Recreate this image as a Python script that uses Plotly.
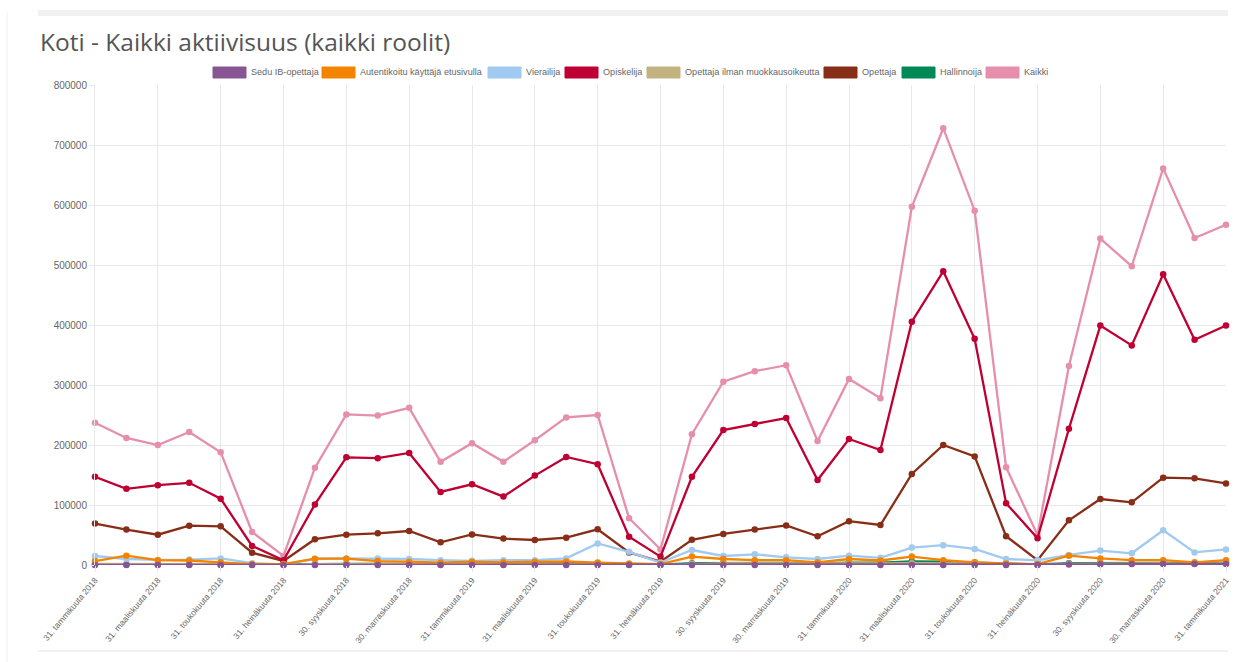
import plotly.graph_objects as go

# ---------------- data ----------------
months = [
    "31. tammikuuta 2018", "28. helmikuuta 2018", "31. maaliskuuta 2018", "30. huhtikuuta 2018",
    "31. toukokuuta 2018", "30. kesäkuuta 2018", "31. heinäkuuta 2018", "31. elokuuta 2018",
    "30. syyskuuta 2018", "31. lokakuuta 2018", "30. marraskuuta 2018", "31. joulukuuta 2018",
    "31. tammikuuta 2019", "28. helmikuuta 2019", "31. maaliskuuta 2019", "30. huhtikuuta 2019",
    "31. toukokuuta 2019", "30. kesäkuuta 2019", "31. heinäkuuta 2019", "31. elokuuta 2019",
    "30. syyskuuta 2019", "31. lokakuuta 2019", "30. marraskuuta 2019", "31. joulukuuta 2019",
    "31. tammikuuta 2020", "29. helmikuuta 2020", "31. maaliskuuta 2020", "30. huhtikuuta 2020",
    "31. toukokuuta 2020", "30. kesäkuuta 2020", "31. heinäkuuta 2020", "31. elokuuta 2020",
    "30. syyskuuta 2020", "31. lokakuuta 2020", "30. marraskuuta 2020", "31. joulukuuta 2020",
    "31. tammikuuta 2021",
]

sedu_ib_opettaja = [0] * 31 + [800, 1200, 1500, 1500, 1500, 1500]

autentikoitu = [
    6500, 15500, 8000, 7500, 4500, 1500, 1500, 10500, 10500, 6500, 5500, 4000,
    5500, 4500, 5500, 6000, 4000, 2500, 1500, 14000, 10000, 8000, 8000, 4500,
    10000, 7500, 14000, 8000, 4500, 2500, 1500, 15500, 11000, 8000, 8000, 4500,
    8000,
]

vierailija = [
    15000, 10000, 8500, 9000, 11000, 3000, 1000, 10000, 11000, 11000, 10000, 8000,
    7000, 8000, 8000, 11000, 36000, 22000, 4000, 25000, 15000, 17800, 12800, 10000,
    15500, 12000, 29000, 33000, 26700, 10000, 7800, 16700, 24000, 19500, 58000, 21000,
    26000,
]

opiskelija = [
    147000, 127000, 133000, 137000, 110500, 31700, 8000, 101000, 179500, 178000, 186700, 121700,
    134500, 114000, 149000, 180000, 168000, 47000, 14000, 147000, 225000, 235000, 245000, 141700,
    210000, 191700, 405500, 489500, 377000, 103000, 44500, 227000, 399000, 366000, 484500, 375500,
    399000,
]

opettaja_ilman = [
    2000, 2000, 1500, 2000, 1500, 500, 300, 1500, 2000, 2000, 2000, 1500,
    2000, 2000, 2000, 2000, 2000, 800, 300, 2000, 2500, 2500, 2500, 1500,
    2500, 2500, 3000, 3000, 2500, 1000, 300, 2000, 2500, 2500, 2500, 2000,
    2500,
]

opettaja = [
    69000, 59000, 50500, 65500, 64500, 20500, 6700, 43000, 50500, 52800, 56700, 37800,
    51000, 44000, 41700, 45500, 59500, 21000, 5500, 42000, 51700, 59000, 66000, 47800,
    73000, 66700, 151700, 200000, 181000, 48000, 8000, 74500, 110000, 104500, 145500, 144500,
    136000,
]

hallinnoija = [
    1000, 1000, 1000, 1000, 1000, 500, 300, 1500, 2000, 2000, 2000, 1500,
    2000, 2000, 2500, 3000, 3000, 1000, 500, 3000, 3500, 3500, 3500, 2500,
    4000, 4000, 6000, 5500, 4000, 2000, 800, 3000, 3500, 3500, 3500, 3000,
    3500,
]

kaikki = [
    237000, 211700, 200000, 221700, 188000, 55000, 15000, 162000, 251000, 249000, 262000, 172000,
    203000, 172000, 208000, 246000, 250000, 78000, 26000, 218000, 305500, 323000, 333000, 206700,
    310000, 278000, 597000, 728000, 590500, 163000, 50000, 331700, 544000, 498000, 661000, 545000,
    567000,
]

series_names = [
    "Sedu IB-opettaja", "Autentikoitu käyttäjä etusivulla", "Vierailija", "Opiskelija",
    "Opettaja ilman muokkausoikeutta", "Opettaja", "Hallinnoija", "Kaikki",
]
series_values = [
    sedu_ib_opettaja, autentikoitu, vierailija, opiskelija,
    opettaja_ilman, opettaja, hallinnoija, kaikki,
]
series_colors = [
    "#875692", "#F38400", "#A1CAF1", "#BE0032",
    "#C2B280", "#882D17", "#008856", "#E68FAC",
]

title_text = "Koti - Kaikki aktiivisuus (kaikki roolit)"

# ---------------- layout geometry (pixels) ----------------
W, H = 1257, 662
PL, PR, PT, PB = 95, 1226, 85, 565  # plot area edges


def px_x(px):
    return (px - PL) / (PR - PL)


def px_y(py):
    return (PB - py) / (PB - PT)


fig = go.Figure()

# Chart.js draws first dataset on top -> add in reverse order
for name, vals, col in reversed(list(zip(series_names, series_values, series_colors))):
    fig.add_trace(go.Scatter(
        x=months, y=vals, name=name, mode="lines+markers",
        line=dict(color=col, width=2.3),
        marker=dict(color=col, size=6.5),
        cliponaxis=False, showlegend=False,
    ))

# ---------------- manual legend (Chart.js style boxes) ----------------
legend_box_left = [213, 322, 488, 565, 647, 824, 902, 986]
box_w, box_top, box_bot = 33, 67, 78
shapes = []
annotations = []
for name, col, bx in zip(series_names, series_colors, legend_box_left):
    shapes.append(dict(
        type="rect", xref="paper", yref="paper",
        x0=px_x(bx), x1=px_x(bx + box_w), y0=px_y(box_bot), y1=px_y(box_top),
        fillcolor=col, line=dict(color=col, width=1), layer="above",
    ))
    annotations.append(dict(
        xref="paper", yref="paper", x=px_x(bx + box_w + 3), y=px_y((box_top + box_bot) / 2),
        xanchor="left", yanchor="middle", showarrow=False, text=name,
        font=dict(family="Liberation Sans, Arial, sans-serif", size=9.1, color="#666666"),
    ))

# page decorations
shapes.append(dict(type="rect", xref="paper", yref="paper",
                   x0=px_x(38), x1=px_x(1228), y0=px_y(16), y1=px_y(10),
                   fillcolor="#f1f1f1", line=dict(width=0), layer="below"))
shapes.append(dict(type="line", xref="paper", yref="paper",
                   x0=px_x(38), x1=px_x(1228), y0=px_y(651), y1=px_y(651),
                   line=dict(color="#e2e2ec", width=1)))
shapes.append(dict(type="line", xref="paper", yref="paper",
                   x0=px_x(7), x1=px_x(7), y0=px_y(12), y1=px_y(662),
                   line=dict(color="#f0f0f0", width=1)))

fig.update_layout(
    width=W, height=H,
    margin=dict(l=PL, r=W - PR, t=PT, b=H - PB, pad=0, autoexpand=False),
    paper_bgcolor="white", plot_bgcolor="white",
    font=dict(family="Liberation Sans, Arial, sans-serif", size=10, color="#666666"),
    title=dict(
        text=title_text, xref="container", yref="container",
        x=40 / W, y=1 - 42 / H, xanchor="left", yanchor="middle",
        font=dict(family="Open Sans, sans-serif", size=24.5, color="#555555"),
    ),
    shapes=shapes, annotations=annotations,
    showlegend=False,
    hovermode="closest",
)

fig.update_xaxes(
    type="category", range=[0, len(months) - 1], automargin=False,
    tickmode="array", tickvals=months[::2], ticktext=months[::2],
    tickangle=-50, tickfont=dict(size=8.5, color="#666666"),
    showgrid=True, gridcolor="#e8e8e8", gridwidth=1,
    ticks="outside", ticklen=6, tickcolor="#e8e8e8",
    showline=False, zeroline=False,
)
fig.update_yaxes(
    range=[0, 800000], dtick=100000, tick0=0, tickformat="d", automargin=False,
    tickfont=dict(size=10, color="#666666"),
    showgrid=True, gridcolor="#e8e8e8", gridwidth=1,
    ticks="outside", ticklen=5, tickcolor="#e8e8e8",
    showline=True, linecolor="#e8e8e8", linewidth=1,
    zeroline=False,
)

fig.write_html(
    "out.html",
    config={"displayModeBar": False},
    post_script="document.body.style.margin='0';document.body.style.overflow='hidden';",
)
